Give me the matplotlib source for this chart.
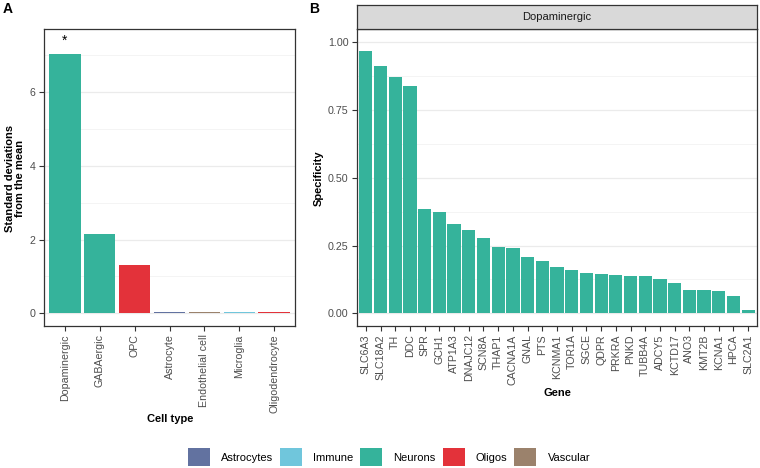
import matplotlib.pyplot as plt
from matplotlib.patches import Patch

plt.rcParams["font.family"] = ["Liberation Sans", "DejaVu Sans"]

# panel A: enrichment per cell type
cell_types = ["Dopaminergic", "GABAergic", "OPC", "Astrocyte", "Endothelial cell",
              "Microglia", "Oligodendrocyte"]
sd_from_mean = [7.02, 2.16, 1.30, 0.05, 0.05, 0.05, 0.05]
cell_class = ["Neurons", "Neurons", "Oligos", "Astrocytes", "Vascular", "Immune", "Oligos"]

# panel B: gene specificity in dopaminergic neurons
genes = ["SLC6A3", "SLC18A2", "TH", "DDC", "SPR", "GCH1", "ATP1A3", "DNAJC12", "SCN8A",
         "THAP1", "CACNA1A", "GNAL", "PTS", "KCNMA1", "TOR1A", "SGCE", "QDPR", "PRKRA",
         "PNKD", "TUBB4A", "ADCY5", "KCTD17", "ANO3", "KMT2B", "KCNA1", "HPCA", "SLC2A1"]
specificity = [0.969, 0.911, 0.871, 0.838, 0.385, 0.373, 0.331, 0.309, 0.278,
               0.244, 0.240, 0.209, 0.193, 0.170, 0.159, 0.150, 0.146, 0.143,
               0.139, 0.138, 0.128, 0.113, 0.087, 0.086, 0.081, 0.062, 0.011]

classes = ["Astrocytes", "Immune", "Neurons", "Oligos", "Vascular"]
class_colors = {"Astrocytes": "#6272a0", "Immune": "#70c6dc", "Neurons": "#35b39b",
                "Oligos": "#e3323a", "Vascular": "#9b826c"}

W, H = 760, 468
fig = plt.figure(figsize=(W / 100, H / 100), dpi=100)


def px_axes(x0, y0, x1, y1):
    return fig.add_axes([x0 / W, 1 - y1 / H, (x1 - x0) / W, (y1 - y0) / H])


def style(ax, major, minor):
    ax.set_facecolor("white")
    for s in ax.spines.values():
        s.set_color("#333333")
        s.set_linewidth(0.9)
    ax.set_yticks(major)
    ax.set_yticks(minor, minor=True)
    ax.grid(axis="y", which="major", color="#ebebeb", lw=0.9)
    ax.grid(axis="y", which="minor", color="#f3f3f3", lw=0.6)
    ax.set_axisbelow(True)
    ax.tick_params(axis="both", which="major", colors="#333333", labelcolor="#4d4d4d",
                   labelsize=7.7, length=3.5, width=0.8, pad=2.5)
    ax.tick_params(axis="y", which="minor", length=0)


axA = px_axes(44, 29.3, 295, 326)
xA = range(len(cell_types))
axA.bar(xA, sd_from_mean, width=0.9, color=[class_colors[c] for c in cell_class])
axA.text(0, 7.2, "*", ha="center", va="bottom", fontsize=10)
axA.set_xlim(-0.6, len(cell_types) - 0.4)
axA.set_ylim(-0.34, 7.69)
style(axA, [0, 2, 4, 6], [1, 3, 5, 7])
axA.set_xticks(list(xA))
axA.set_xticklabels(cell_types, rotation=90)
fig.text(170 / W, 1 - 419 / H, "Cell type", ha="center", va="center",
         fontsize=8, fontweight="bold")
fig.text(15 / W, 1 - 178 / H, "Standard deviations\nfrom the mean", ha="center",
         va="center", rotation=90, multialignment="center", fontsize=8,
         fontweight="bold", linespacing=1.1)

axB = px_axes(357, 29.3, 757, 326)
xB = range(len(genes))
axB.bar(xB, specificity, width=0.9, color=class_colors["Neurons"])
axB.set_xlim(-0.6, len(genes) - 0.4)
axB.set_ylim(-0.047, 1.048)
style(axB, [0, 0.25, 0.5, 0.75, 1.0], [0.125, 0.375, 0.625, 0.875])
axB.set_yticklabels(["0.00", "0.25", "0.50", "0.75", "1.00"])
axB.set_xticks(list(xB))
axB.set_xticklabels(genes, rotation=90)
fig.text(557 / W, 1 - 393 / H, "Gene", ha="center", va="center",
         fontsize=8, fontweight="bold")
fig.text(319 / W, 1 - 178 / H, "Specificity", ha="center", va="center",
         rotation=90, fontsize=8, fontweight="bold")

# facet strip
strip = px_axes(357, 4.7, 757, 29.3)
strip.set_facecolor("#d9d9d9")
strip.set_xticks([])
strip.set_yticks([])
for s in strip.spines.values():
    s.set_color("#333333")
    s.set_linewidth(0.9)
strip.text(0.5, 0.5, "Dopaminergic", ha="center", va="center", fontsize=8,
           color="#1a1a1a", transform=strip.transAxes)

fig.text(3 / W, 1 - 9 / H, "A", fontsize=10, fontweight="bold", va="center")
fig.text(309 / W, 1 - 9 / H, "B", fontsize=10, fontweight="bold", va="center")

handles = [Patch(facecolor=class_colors[c], edgecolor="none", label=c) for c in classes]
fig.legend(handles=handles, loc="center", bbox_to_anchor=(389 / W, 1 - 457 / H), ncol=5,
           frameon=False, fontsize=8, handlelength=2.0, handleheight=2.0,
           handletextpad=1.0, columnspacing=0.6, borderpad=0, borderaxespad=0)

fig.savefig("out.png", dpi=100)
